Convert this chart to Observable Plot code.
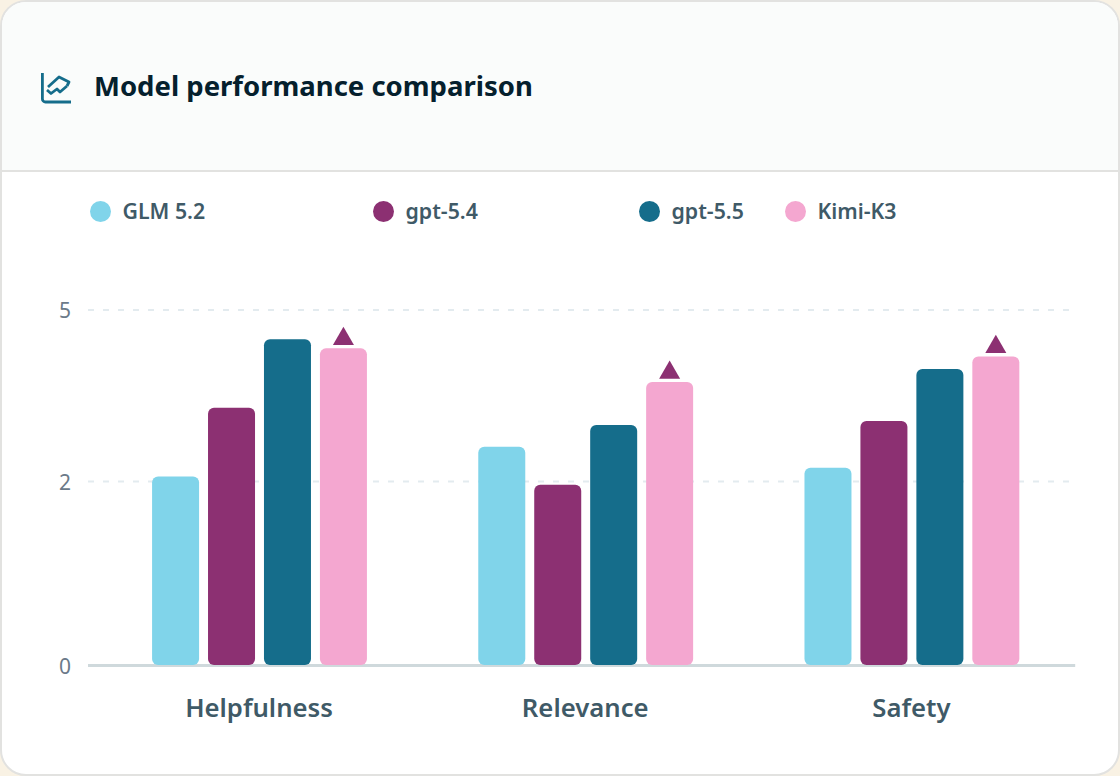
<!DOCTYPE html>
<html>
<head>
<meta charset="utf-8">
<script src="https://cdn.jsdelivr.net/npm/d3@7"></script>
<script src="https://cdn.jsdelivr.net/npm/@observablehq/plot@0.6"></script>
<style>
html,body{margin:0;padding:0;background:#f9f2e4;font-family:"Noto Sans",sans-serif;}
#page{position:relative;width:1120px;height:776px;overflow:hidden;}
#card{position:absolute;inset:0;box-sizing:border-box;background:#fff;border:2px solid #e2e2e0;border-radius:26px;overflow:hidden;}
#head{position:absolute;left:0;right:0;top:0;height:168px;background:#fafcfb;border-bottom:2px solid #e2e2e0;}
#title{position:absolute;left:94px;top:66px;font-size:27.5px;line-height:40px;font-weight:700;color:#05202d;white-space:nowrap;}
#icon{position:absolute;left:40px;top:72px;}
.item{position:absolute;top:196px;height:30px;line-height:30px;font-size:21.3px;font-weight:600;color:#3f5a67;white-space:nowrap;}
.item i{position:absolute;left:-33px;top:4.5px;width:21px;height:21px;border-radius:50%;}
#chart{position:absolute;left:0;top:280px;}
#chart svg{display:block;overflow:visible;}
</style>
</head>
<body>
<div id="page">
  <div id="card"><div id="head"></div></div>
  <svg id="icon" width="33" height="33" viewBox="0 0 33 33" fill="none" stroke="#156d8b" stroke-width="2.8" stroke-linejoin="round" stroke-linecap="butt">
    <path d="M2.4 1V27a3 3 0 0 0 3 3H31"/>
    <path d="M8 15 L19 5 L29 10 L27 14"/>
    <path d="M7 18 L11 21.5 L17 17 L20 20 L27 14" />
  </svg>
  <div id="title">Model performance comparison</div>
  <div id="legend"></div>
  <div id="chart"></div>
</div>
<script>
const categories = ["Helpfulness", "Relevance", "Safety"];
const models = ["GLM 5.2", "gpt-5.4", "gpt-5.5", "Kimi-K3"];
const colors = ["#80d4ea", "#8c3072", "#156d8b", "#f4a7d0"];
const glmValues = [2.08, 2.60, 2.23];
const gpt54Values = [3.28, 1.96, 3.05];
const gpt55Values = [4.48, 2.98, 3.96];
const kimiValues = [4.32, 3.73, 4.18];
const yTicks = [0, 2, 5];
const legendLeft = [122.5, 405.5, 671.5, 817.5];

const seriesValues = [glmValues, gpt54Values, gpt55Values, kimiValues];
const rows = models.flatMap((model, m) =>
  categories.map((category, c) => ({model, category, value: seriesValues[m][c]}))
);
const best = rows.filter(d => d.model === "Kimi-K3");

const legend = d3.select("#legend");
models.forEach((m, i) => {
  const it = legend.append("div").attr("class", "item").style("left", legendLeft[i] + "px").text(m);
  it.append("i").style("background", colors[i]);
});

const firstFacet = () => categories[0];
const plot = Plot.plot({
  width: 1120,
  height: 480,
  marginTop: 29,
  marginBottom: 95,
  marginLeft: 88,
  marginRight: 45,
  style: {background: "transparent", fontFamily: "Noto Sans"},
  x: {domain: models, paddingInner: 0.16, paddingOuter: 0.995, round: false, axis: null},
  y: {type: "linear", domain: [0, 2, 5], range: [385, 201, 29.5], axis: null},
  fx: {domain: categories, range: [96.4, 1075], padding: 0, round: false, label: null, axis: null},
  color: {domain: models, range: colors},
  marks: [
    Plot.ruleY(yTicks.slice(1), {fx: firstFacet, y: d => d, insetLeft: -8.4, insetRight: -652.6, stroke: "#e3ebef", strokeWidth: 2, strokeDasharray: "6 9"}),
    Plot.ruleY([0], {fx: firstFacet, y: d => d, insetLeft: -8.4, insetRight: -652.6, stroke: "#cfd9dc", strokeWidth: 3}),
    Plot.axisY({ticks: yTicks, tickFormat: d3.format("d"), anchor: "left", tickSize: 0, tickPadding: 26, dy: 1.5, fontSize: 21, fill: "#6b7a89", label: null}),
    Plot.barY(rows, {fx: "category", x: "model", y: "value", fill: "model", rx: 6}),
    Plot.dot(best, {fx: "category", x: "model", y: "value", symbol: "triangle", r: 7.8, fill: colors[1], dx: -0.5, dy: -10}),
    Plot.axisFx({anchor: "bottom", tickSize: 0, tickPadding: 33, dx: -1, fontSize: 25.7, fontWeight: 600, fill: "#3f5a67", label: null})
  ]
});
document.getElementById("chart").appendChild(plot);
</script>
</body>
</html>
